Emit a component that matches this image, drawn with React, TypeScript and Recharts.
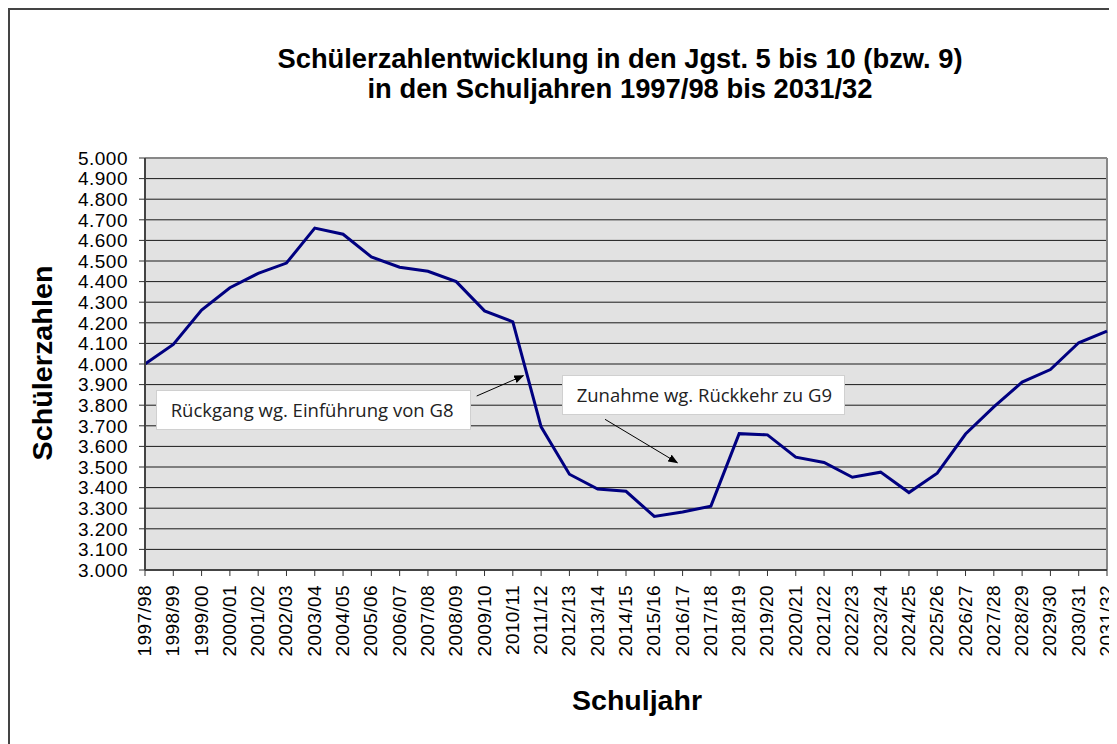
import React from "react";
import {
  LineChart,
  Line,
  XAxis,
  YAxis,
  CartesianGrid,
  ReferenceLine,
} from "recharts";

const schoolYears = [
  "1997/98", "1998/99", "1999/00", "2000/01", "2001/02", "2002/03", "2003/04",
  "2004/05", "2005/06", "2006/07", "2007/08", "2008/09", "2009/10", "2010/11",
  "2011/12", "2012/13", "2013/14", "2014/15", "2015/16", "2016/17", "2017/18",
  "2018/19", "2019/20", "2020/21", "2021/22", "2022/23", "2023/24", "2024/25",
  "2025/26", "2026/27", "2027/28", "2028/29", "2029/30", "2030/31", "2031/32",
];

const pupils = [
  4000, 4095, 4262, 4370, 4440, 4490, 4660, 4630, 4520, 4470, 4450, 4400,
  4258, 4205, 3695, 3465, 3393, 3382, 3260, 3282, 3310, 3662, 3656, 3548,
  3522, 3450, 3475, 3376, 3470, 3660, 3792, 3912, 3973, 4103, 4160,
];

const yTicks = [
  3000, 3100, 3200, 3300, 3400, 3500, 3600, 3700, 3800, 3900, 4000,
  4100, 4200, 4300, 4400, 4500, 4600, 4700, 4800, 4900, 5000,
];

const titleLines = [
  "Schülerzahlentwicklung in den Jgst. 5 bis 10 (bzw. 9)",
  "in den Schuljahren 1997/98 bis 2031/32",
];

const data = schoolYears.map((year, i) => ({ year, value: pupils[i] }));

// 4500 -> "4.500"
const fmt = (v: number) => {
  const s = String(v);
  return s.slice(0, s.length - 3) + "." + s.slice(-3);
};

const XTick = (props: any) => {
  const { x, y, payload } = props;
  return (
    <text
      transform={`translate(${x - 0.5},${y + 7}) rotate(-90)`}
      textAnchor="end"
      dominantBaseline="central"
      fontFamily="Liberation Sans, Arial, sans-serif"
      fontSize={19}
      letterSpacing={0.4}
      fill="#000"
    >
      {payload.value}
    </text>
  );
};

const App = () => {
  const arial = "Liberation Sans, Arial, sans-serif";
  const note = "Open Sans, Noto Sans, sans-serif";
  return (
    <div style={{ position: "relative", width: 1109, height: 736, background: "#fff" }}>
      <LineChart
        width={1109}
        height={736}
        data={data}
        margin={{ top: 150, right: 10, left: 57, bottom: 74 }}
        style={{ overflow: "visible" }}
      >
        <CartesianGrid
          vertical={false}
          stroke="#1a1a1a"
          fill="#e2e2e2"
          fillOpacity={1}
        />
        <XAxis
          dataKey="year"
          interval={0}
          height={100}
          tick={<XTick />}
          tickSize={6}
          axisLine={{ stroke: "#444", strokeWidth: 2 }}
          tickLine={{ stroke: "#333" }}
        />
        <YAxis
          domain={[3000, 5000]}
          ticks={yTicks}
          interval={0}
          width={80}
          tickFormatter={fmt}
          tickSize={6}
          tickMargin={11}
          tick={{ fontFamily: arial, fontSize: 19, fill: "#000", letterSpacing: 0.5 }}
          axisLine={{ stroke: "#444", strokeWidth: 2 }}
          tickLine={{ stroke: "#333" }}
        />
        <ReferenceLine y={5000} stroke="#888" strokeWidth={2} />
        <ReferenceLine x="2031/32" stroke="#888" strokeWidth={2} />
        <Line
          type="linear"
          dataKey="value"
          stroke="#000080"
          strokeWidth={3}
          dot={false}
          activeDot={false}
          isAnimationActive={false}
        />
      </LineChart>
      <svg
        width={1109}
        height={736}
        style={{ position: "absolute", left: 0, top: 0, pointerEvents: "none" }}
      >
        <defs>
          <marker id="arr" markerWidth="10" markerHeight="8" refX="9" refY="4" orient="auto" markerUnits="userSpaceOnUse">
            <path d="M0,0 L10,4 L0,8 Z" fill="#000" />
          </marker>
        </defs>
        <line x1={0} y1={1} x2={1109} y2={1} stroke="#444" strokeWidth={2} />
        <line x1={1} y1={0} x2={1} y2={736} stroke="#444" strokeWidth={2} />
        <text x={612} y={60} textAnchor="middle" fontFamily={arial} fontWeight="bold" fontSize={28}
          textLength={685} lengthAdjust="spacingAndGlyphs" fill="#000">
          {titleLines[0]}
        </text>
        <text x={612} y={90} textAnchor="middle" fontFamily={arial} fontWeight="bold" fontSize={28}
          textLength={505} lengthAdjust="spacingAndGlyphs" fill="#000">
          {titleLines[1]}
        </text>
        <text
          transform="translate(34,355) rotate(-90)"
          textAnchor="middle"
          dominantBaseline="central"
          fontFamily={arial}
          fontWeight="bold"
          fontSize={28}
          textLength={195}
          lengthAdjust="spacingAndGlyphs"
          fill="#000"
        >
          Schülerzahlen
        </text>
        <text x={629} y={702} textAnchor="middle" fontFamily={arial} fontWeight="bold" fontSize={28}
          textLength={130} lengthAdjust="spacingAndGlyphs" fill="#000">
          Schuljahr
        </text>
        <rect x={148.5} y={382.5} width={314} height={39} fill="#fff" stroke="#d0d0d0" />
        <text x={162.7} y={408.5} fontFamily={note} fontSize={18.5} fill="#222">
          Rückgang wg. Einführung von G8
        </text>
        <line x1={468.7} y1={388} x2={515.3} y2={367.7} stroke="#000" strokeWidth={1} markerEnd="url(#arr)" />
        <rect x={554.5} y={367.5} width={282} height={39} fill="#fff" stroke="#d0d0d0" />
        <text x={568.7} y={393.5} fontFamily={note} fontSize={18.5} fill="#222">
          Zunahme wg. Rückkehr zu G9
        </text>
        <line x1={597} y1={411.3} x2={669.3} y2={454.7} stroke="#000" strokeWidth={1} markerEnd="url(#arr)" />
      </svg>
    </div>
  );
};

export default App;
